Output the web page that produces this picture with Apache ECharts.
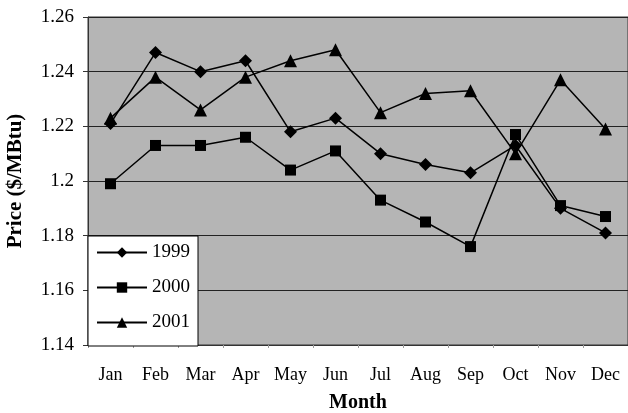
<!DOCTYPE html>
<html>
<head>
<meta charset="utf-8">
<script src="https://cdn.jsdelivr.net/npm/echarts@6/dist/echarts.min.js"></script>
<style>
  html, body { margin: 0; padding: 0; background: #fff; }
  #chart { width: 628px; height: 413px; }
</style>
</head>
<body>
<div id="chart"></div>
<script>
  // data
  var months = ['Jan', 'Feb', 'Mar', 'Apr', 'May', 'Jun', 'Jul', 'Aug', 'Sep', 'Oct', 'Nov', 'Dec'];
  var price1999 = [1.221, 1.247, 1.240, 1.244, 1.218, 1.223, 1.210, 1.206, 1.203, 1.213, 1.190, 1.181];
  var price2000 = [1.199, 1.213, 1.213, 1.216, 1.204, 1.211, 1.193, 1.185, 1.176, 1.217, 1.191, 1.187];
  var price2001 = [1.223, 1.238, 1.226, 1.238, 1.244, 1.248, 1.225, 1.232, 1.233, 1.210, 1.237, 1.219];
  var yTicks = { min: 1.14, max: 1.26, step: 0.02 };

  var font = '"Liberation Serif", "DejaVu Serif", serif';

  function makeSeries(name, values, symbol, size) {
    return {
      name: name,
      type: 'line',
      data: values,
      symbol: symbol,
      symbolSize: size,
      lineStyle: { color: '#000', width: 1.5 },
      itemStyle: { color: '#000' }
    };
  }

  var chart = echarts.init(document.getElementById('chart'));

  chart.setOption({
    animation: false,
    grid: {
      left: 88, right: 0, top: 17, bottom: 68,
      outerBoundsMode: 'none',
      containLabel: false,
      show: true,
      backgroundColor: '#b5b5b5',
      borderColor: '#333',
      borderWidth: 1
    },
    legend: {
      orient: 'vertical',
      left: 88, top: 236,
      padding: [7, 8, 14, 8],
      itemGap: 16,
      itemWidth: 50,
      itemHeight: 13,
      backgroundColor: '#fff',
      borderColor: '#000',
      borderWidth: 1,
      borderRadius: 0,
      textStyle: { fontFamily: font, fontSize: 19, color: '#000', lineHeight: 19 },
      data: ['1999', '2000', '2001']
    },
    xAxis: {
      type: 'category',
      data: months,
      boundaryGap: true,
      name: 'Month',
      nameLocation: 'middle',
      nameGap: 48,
      nameTextStyle: { fontFamily: font, fontSize: 20, fontWeight: 'bold', color: '#000' },
      axisLine: { lineStyle: { color: '#333' } },
      axisTick: { show: true, length: 3, lineStyle: { color: '#999' } },
      axisLabel: { fontFamily: font, fontSize: 18, color: '#000', margin: 21 }
    },
    yAxis: {
      type: 'value',
      min: yTicks.min,
      max: yTicks.max,
      interval: yTicks.step,
      name: 'Price ($/MBtu)',
      nameLocation: 'middle',
      nameGap: 62,
      nameTextStyle: { fontFamily: font, fontSize: 21, fontWeight: 'bold', color: '#000' },
      axisLine: { show: true, lineStyle: { color: '#333' } },
      axisTick: { show: true, length: 5, lineStyle: { color: '#333' } },
      axisLabel: { fontFamily: font, fontSize: 19, color: '#000', margin: 14 },
      splitLine: { show: true, lineStyle: { color: '#222', width: 1 } }
    },
    series: [
      makeSeries('1999', price1999, 'diamond', 13),
      makeSeries('2000', price2000, 'rect', 11),
      makeSeries('2001', price2001, 'triangle', 13)
    ]
  });
</script>
</body>
</html>
